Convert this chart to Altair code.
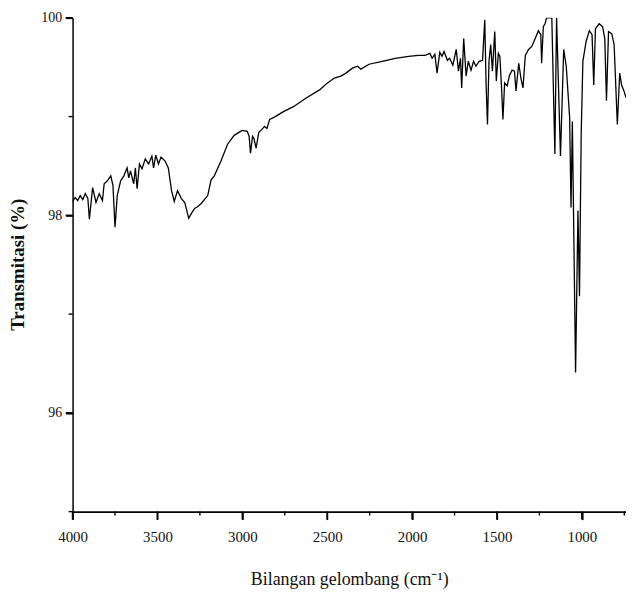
import altair as alt
import pandas as pd

# Wavenumber (cm^-1) and transmittance (%)
wavenumber = [
    4000, 3985, 3970, 3955, 3940, 3925, 3910, 3901, 3882, 3862, 3843, 3824, 3814, 3795, 3775, 3762,
    3750, 3737, 3717, 3698, 3679, 3669, 3659, 3640, 3630, 3620, 3606, 3591, 3572, 3552, 3533, 3523,
    3510, 3494, 3479, 3455, 3436, 3417, 3401, 3382, 3359, 3339, 3316, 3300, 3281, 3262, 3242, 3204,
    3184, 3165, 3126, 3087, 3048, 3020, 3000, 2971, 2960, 2952, 2940, 2932, 2919, 2903, 2884, 2870,
    2855, 2839, 2806, 2758, 2699, 2622, 2545, 2506, 2458, 2420, 2390, 2351, 2321, 2302, 2254, 2176,
    2099, 2021, 1963, 1924, 1895, 1882, 1866, 1853, 1837, 1824, 1812, 1792, 1779, 1760, 1740, 1727,
    1715, 1708, 1696, 1682, 1669, 1653, 1638, 1624, 1605, 1585, 1572, 1564, 1556, 1547, 1537, 1527,
    1513, 1504, 1492, 1483, 1473, 1465, 1455, 1440, 1426, 1411, 1397, 1388, 1372, 1359, 1347, 1333,
    1314, 1295, 1275, 1256, 1242, 1237, 1227, 1217, 1208, 1192, 1177, 1159, 1149, 1126, 1107, 1100,
    1092, 1072, 1064, 1056, 1037, 1023, 1014, 1004, 994, 975, 956, 940, 930, 920, 898, 878,
    865, 855, 843, 824, 810, 791, 777, 766, 752, 740,
]
transmittance = [
    98.14, 98.18, 98.15, 98.20, 98.16, 98.22, 98.17, 97.96, 98.28, 98.13, 98.22, 98.15, 98.32, 98.35, 98.40, 98.30,
    97.88, 98.20, 98.35, 98.40, 98.48, 98.38, 98.45, 98.32, 98.48, 98.27, 98.52, 98.47, 98.57, 98.52, 98.60, 98.48,
    98.61, 98.52, 98.59, 98.55, 98.48, 98.25, 98.14, 98.25, 98.17, 98.13, 97.97, 98.02, 98.07, 98.09, 98.12, 98.20,
    98.36, 98.40, 98.55, 98.72, 98.81, 98.84, 98.86, 98.85, 98.80, 98.63, 98.80, 98.78, 98.68, 98.84, 98.87, 98.90,
    98.88, 98.97, 99.00, 99.05, 99.10, 99.19, 99.27, 99.33, 99.39, 99.41, 99.44, 99.49, 99.51, 99.48, 99.53, 99.56,
    99.59, 99.61, 99.62, 99.62, 99.64, 99.59, 99.63, 99.44, 99.65, 99.61, 99.66, 99.57, 99.59, 99.52, 99.68, 99.46,
    99.59, 99.29, 99.79, 99.41, 99.56, 99.47, 99.56, 99.51, 99.56, 99.57, 99.98, 99.32, 98.92, 99.56, 99.73, 99.46,
    99.86, 99.36, 99.64, 99.61, 99.29, 98.97, 99.34, 99.31, 99.42, 99.47, 99.46, 99.26, 99.54, 99.39, 99.29, 99.62,
    99.68, 99.71, 99.79, 99.87, 99.83, 99.54, 99.91, 99.94, 100.0, 100.0, 100.0, 98.62, 100.0, 98.60, 99.68, 99.60,
    99.51, 98.99, 98.08, 98.95, 96.41, 98.05, 97.18, 98.82, 99.56, 99.76, 99.87, 99.83, 99.32, 99.89, 99.94, 99.91,
    99.79, 99.16, 99.86, 99.84, 99.73, 98.92, 99.44, 99.32, 99.26, 99.19,
]

x_major = [4000, 3500, 3000, 2500, 2000, 1500, 1000]
x_minor = [3750, 3250, 2750, 2250, 1750, 1250, 750]
y_major = [96, 98, 100]
y_minor = [95, 97, 99]

df = pd.DataFrame({"wn": wavenumber, "t": transmittance})
xmaj_df = pd.DataFrame({"v": x_major})
xmin_df = pd.DataFrame({"v": x_minor})
ymaj_df = pd.DataFrame({"v": y_major})
ymin_df = pd.DataFrame({"v": y_minor})

FONT = "Liberation Serif"
W, H = 557, 497
xscale = alt.Scale(domain=[740, 4000], reverse=True, nice=False, zero=False)
yscale = alt.Scale(domain=[95, 100], nice=False, zero=False)

line = alt.Chart(df).mark_line(color="black", strokeWidth=1.3, clip=True).encode(
    x=alt.X("wn:Q", scale=xscale, axis=alt.Axis(
        orient="bottom", values=x_major, format="d", grid=False, labelFlush=False,
        domainColor="#000000", domainWidth=1.8, tickColor="#000000", tickWidth=1.6, tickSize=8,
        labelFont=FONT, labelFontSize=15, labelColor="#111", labelPadding=10,
        title="Bilangan gelombang (cm⁻¹)", titleFont=FONT, titleFontSize=18, titleFontWeight="normal",
        titleColor="#111", titleBaseline="alphabetic", titleY=73,
    )),
    y=alt.Y("t:Q", scale=yscale, axis=alt.Axis(
        orient="left", values=y_major, format="d", grid=False, labelFlush=False,
        domainColor="#000000", domainWidth=1.5, tickColor="#000000", tickWidth=1.6, tickSize=7,
        labelFont=FONT, labelFontSize=14, labelColor="#111", labelPadding=4,
        title="Transmitasi (%)", titleFont=FONT, titleFontSize=19, titleFontWeight="bold",
        titleColor="#111", titleAngle=270, titleAlign="center", titleBaseline="middle",
        titleX=-55, titleY=248,
    )),
)

# Tick marks drawn as rules positioned by the shared scales
xmaj_ticks = alt.Chart(xmaj_df).mark_rule(color="black", strokeWidth=1.6).encode(
    x=alt.X("v:Q", scale=xscale, axis=None), y=alt.value(H), y2=alt.value(H + 8))
xmin_ticks = alt.Chart(xmin_df).mark_rule(color="black", strokeWidth=1.4).encode(
    x=alt.X("v:Q", scale=xscale, axis=None), y=alt.value(H), y2=alt.value(H + 4))
ymaj_ticks = alt.Chart(ymaj_df).mark_rule(color="black", strokeWidth=1.6).encode(
    y=alt.Y("v:Q", scale=yscale, axis=None), x=alt.value(-7), x2=alt.value(0))
ymin_ticks = alt.Chart(ymin_df).mark_rule(color="black", strokeWidth=1.4).encode(
    y=alt.Y("v:Q", scale=yscale, axis=None), x=alt.value(-4), x2=alt.value(0))

chart = alt.layer(line, xmaj_ticks, xmin_ticks, ymaj_ticks, ymin_ticks).resolve_axis(
    x="independent", y="independent"
).properties(
    width=W, height=H,
    autosize=alt.AutoSizeParams(type="none"),
    padding={"left": 65, "top": 8, "right": 0, "bottom": 76},
    background="white",
).configure_view(strokeWidth=0)

chart.save("out.html", embed_options={"renderer": "svg", "actions": False})
